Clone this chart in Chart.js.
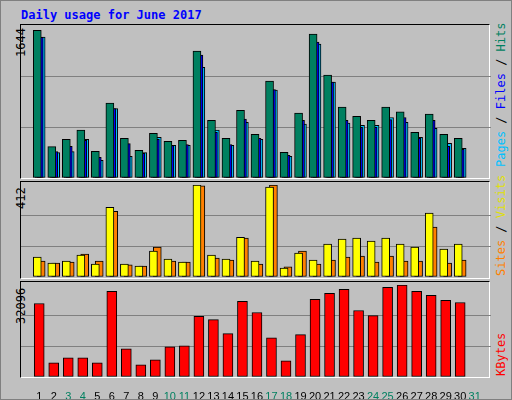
<!DOCTYPE html><html><head><meta charset="utf-8">
<script src="https://cdn.jsdelivr.net/npm/chart.js@4"></script>
<style>
body{margin:0;background:#c0c0c0;}
#wrap{position:absolute;left:0;top:0;width:510px;height:398px;border:1px solid #808080;background:#c0c0c0;overflow:hidden}
.panel{position:absolute;left:19px;width:470px;border-top:1px solid #000;border-left:1px solid #000;border-right:1px solid #fff;border-bottom:1px solid #fff;box-sizing:border-box}
canvas{position:absolute}
.vl{position:absolute;transform:rotate(-90deg);transform-origin:left top;font:12px "DejaVu Sans Mono",monospace;white-space:nowrap}
#title{position:absolute;left:20px;top:7px;font:bold 12px "DejaVu Sans Mono",monospace;color:#0000ff}
</style></head><body><div id="wrap">
<div id="title">Daily usage for June 2017</div>
<div class="panel" style="top:23px;height:155px"></div>
<div class="panel" style="top:180px;height:98px"></div>
<div class="panel" style="top:280px;height:97px"></div>
<div class="vl" style="left:13px;top:56px">1644</div>
<div class="vl" style="left:13px;top:208px">412</div>
<div class="vl" style="left:13px;top:323px">32096</div>
<div class="vl" style="left:493px;top:166px"><span style="color:#00c0ff">Pages</span> / <span style="color:#0000ff">Files</span> / <span style="color:#008060">Hits</span></div>
<div class="vl" style="left:493px;top:275px"><span style="color:#ff8000">Sites</span> / <span style="color:#e0e000">Visits</span></div>
<div class="vl" style="left:493px;top:375px"><span style="color:#ff0000">KBytes</span></div>
<canvas id="c1" style="left:20px;top:25px;width:470px;height:152px"></canvas>
<canvas id="c2" style="left:20px;top:184px;width:470px;height:92px"></canvas>
<canvas id="c3" style="left:20px;top:284px;width:470px;height:114px"></canvas>
</div>
<script>
const days=[1,2,3,4,5,6,7,8,9,10,11,12,13,14,15,16,17,18,19,20,21,22,23,24,25,26,27,28,29,30,31];
const weekend=[3,4,10,11,17,18,24,25,31];
const hits=[1597,340,419,517,289,809,430,300,484,397,408,1373,625,430,733,473,1048,278,701,1557,1113,766,668,625,766,715,495,690,473,430,0];
const files=[1521,285,343,408,224,751,372,267,419,350,361,1330,495,361,636,430,957,246,625,1470,1037,625,549,549,632,654,430,625,343,311,0];
const pages=[1525,275,285,419,191,751,235,275,441,354,354,1196,517,354,603,419,950,235,582,1449,1037,593,571,571,654,603,441,538,376,322,0];
const visits=[89,62,71,98,58,312,58,49,116,80,67,412,98,80,178,71,403,40,107,76,147,170,174,161,174,147,134,286,125,147,0];
const sites=[71,62,67,103,71,294,54,49,134,71,67,408,85,76,174,58,412,45,116,58,76,89,94,67,94,71,71,223,62,76,0];
const kbytes=[25653,4920,6677,6677,4920,29870,9840,4217,5974,10543,10894,21202,20031,15111,26356,22491,13705,5623,14760,27059,29167,30573,23194,21436,31276,32096,29870,28465,26708,26005,0];
const U=1/15;
function ds(vals,off,color,w){return{data:days.map((d,i)=>({x:d+off*U,y:vals[i]})).filter(p=>p.y>0),backgroundColor:color,borderColor:'#000',borderWidth:1,borderSkipped:false,barThickness:w,grouped:false};}
function mk(id,sets,max,showX){
 new Chart(document.getElementById(id),{type:'bar',data:{datasets:sets},options:{
  responsive:false,animation:false,events:[],layout:{padding:0},
  plugins:{legend:{display:false},tooltip:{enabled:false}},
  scales:{
   x:{type:'linear',min:0.267,max:31.6,display:showX,grid:{display:false},border:{display:false},
      afterFit:s=>{if(showX)s.height=22;},
      afterBuildTicks:s=>{s.ticks=days.map(d=>({value:d}));},
      ticks:{autoSkip:false,maxRotation:0,padding:5,color:c=>weekend.includes(c.tick.value)?'#008060':'#000',
        font:{family:'Liberation Sans',size:11},callback:v=>String(v)}},
   y:{min:0,max:max,afterFit:s=>{s.width=0},ticks:{display:false,stepSize:max/3},
      grid:{color:c=>(c.tick.value>0&&c.tick.value<max)?'#808080':'rgba(0,0,0,0)',tickLength:0,lineWidth:1},border:{display:false}}
  }}});
}
for(const id of['c1','c2','c3']){const c=document.getElementById(id);c.width=parseInt(c.style.width);c.height=parseInt(c.style.height);}
mk('c1',[ds(hits,-2,'#008060',8),ds(files,0,'#0000ff',8),ds(pages,2,'#00c0ff',8)],1644,false);
mk('c2',[ds(visits,-2,'#ffff00',8),ds(sites,2,'#ff8000',8)],412,false);
mk('c3',[ds(kbytes,0,'#ff0000',10)],32096,true);
</script></body></html>
